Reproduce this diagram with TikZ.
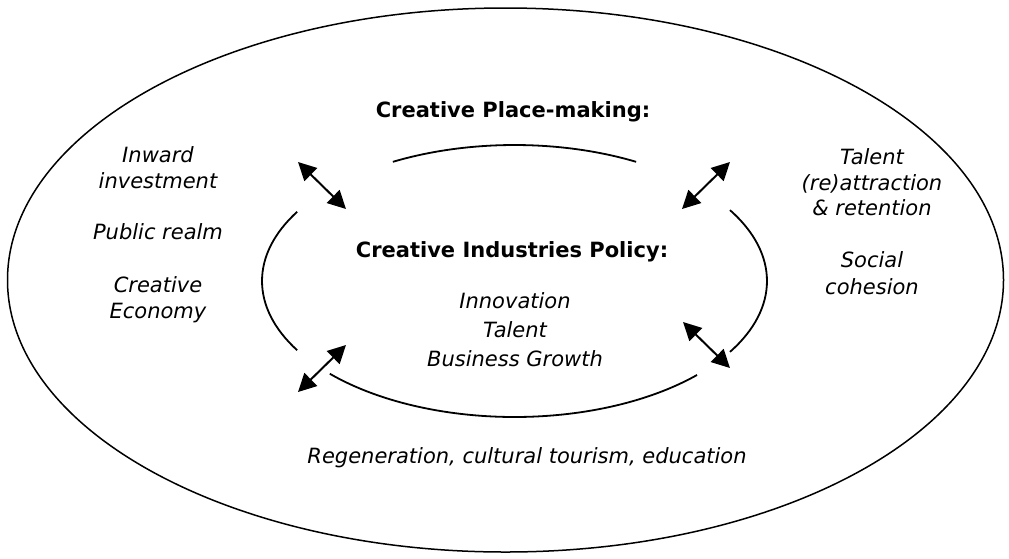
\documentclass[tikz,border=0pt]{standalone}
\usepackage{fontspec}
\setmainfont{DejaVu Sans}
\usetikzlibrary{arrows.meta}
\tikzset{bigtip/.tip={Triangle[length=18pt,width=18pt]}}
\begin{document}
\begin{tikzpicture}[x=1pt,y=-1pt,
  ring/.style={line width=1.8pt},
  link/.style={line width=2pt,bigtip-bigtip},
  head/.style={font=\fontsize{21}{25}\selectfont\bfseries,anchor=base,inner sep=0pt},
  item/.style={font=\fontsize{21}{25}\selectfont\itshape,anchor=base,inner sep=0pt}]
\useasboundingbox (0,0) rectangle (1009,558);
% outer ellipse
\coordinate (oc) at (505.5,280);
\draw[line width=1.5pt] (oc) ellipse[x radius=498,y radius=272];
% inner broken ellipse
\coordinate (ic) at (514.5,281);
\draw[ring] ([shift={(-118.8:252.5 and 136)}]ic) arc[start angle=-118.8,end angle=-61.2,x radius=252.5,y radius=136];
\draw[ring] ([shift={(-31.4:252.5 and 136)}]ic) arc[start angle=-31.4,end angle=31.4,x radius=252.5,y radius=136];
\draw[ring] ([shift={(43.7:252.5 and 136)}]ic) arc[start angle=43.7,end angle=137,x radius=252.5,y radius=136];
\draw[ring] ([shift={(149.4:252.5 and 136)}]ic) arc[start angle=149.4,end angle=210.6,x radius=252.5,y radius=136];
% arrows
\coordinate (a1) at (298,162); \coordinate (b1) at (346,209);
\coordinate (a2) at (730,162); \coordinate (b2) at (682,209);
\coordinate (a3) at (346,345); \coordinate (b3) at (298,392);
\coordinate (a4) at (683,322); \coordinate (b4) at (730,368);
\draw[link] (a1) -- (b1);
\draw[link] (a2) -- (b2);
\draw[link] (a3) -- (b3);
\draw[link] (a4) -- (b4);
% headings
\node[head] (place) at (513,117) {Creative Place-making:};
\node[head] (cip) at (512,257) {Creative Industries Policy:};
% centre items
\node[item] (innov) at (515,308) {Innovation};
\node[item] (tal) at (515,337) {Talent};
\node[item] (bus) at (515,366) {Business Growth};
% left items
\node[item] (l1) at (158,162) {Inward};
\node[item] (l2) at (158,188) {investment};
\node[item] (l3) at (158,239) {Public realm};
\node[item] (l4) at (158,292) {Creative};
\node[item] (l5) at (158,318) {Economy};
% right items
\node[item] (r1) at (872,164) {Talent};
\node[item] (r2) at (872,190) {(re)attraction};
\node[item] (r3) at (872,215) {\& retention};
\node[item] (r4) at (872,267) {Social};
\node[item] (r5) at (872,294) {cohesion};
% bottom
\node[item] (bot) at (527,463) {Regeneration, cultural tourism, education};
\end{tikzpicture}
\end{document}
